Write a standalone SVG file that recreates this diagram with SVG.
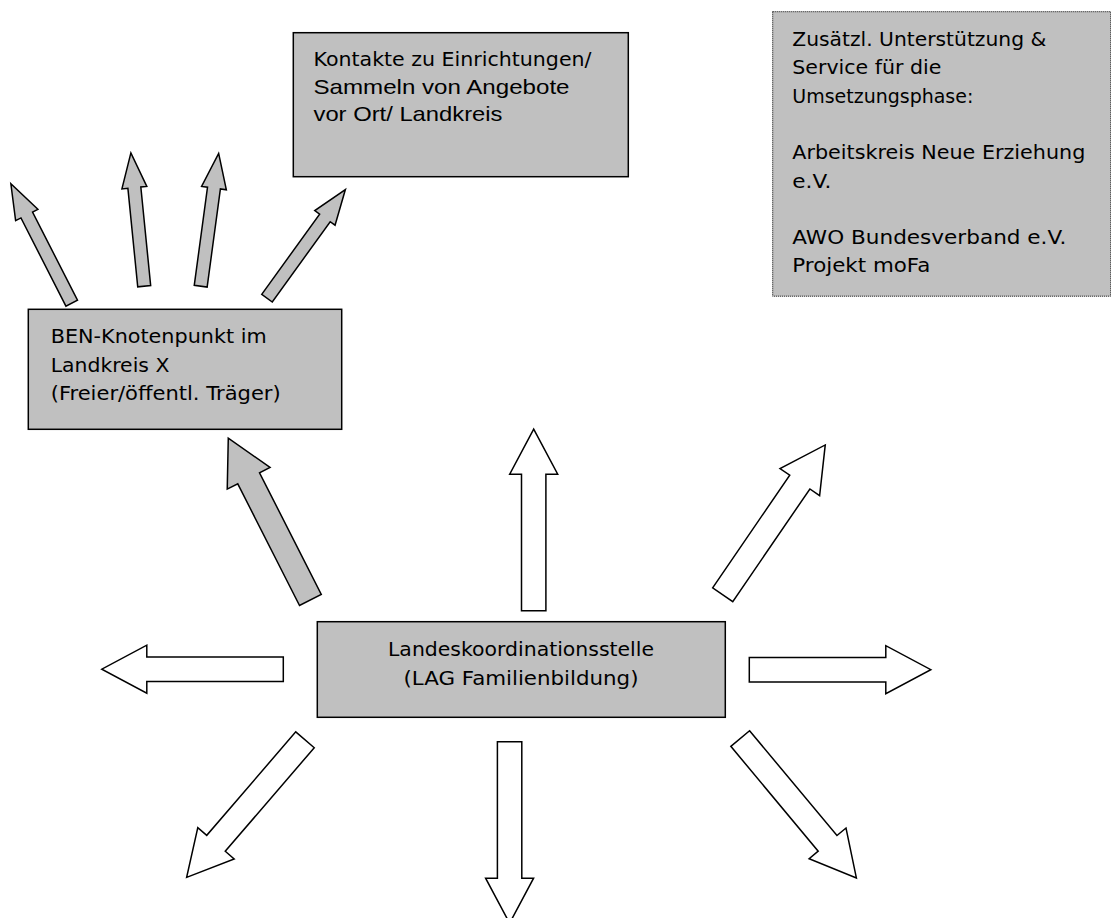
<svg xmlns="http://www.w3.org/2000/svg" xmlns:xlink="http://www.w3.org/1999/xlink" width="1111" height="918" viewBox="0 0 1111 918">
  <style>
    .box { fill: #c0c0c0; stroke: #000; stroke-width: 1.5; }
    .dotted { fill: #c0c0c0; stroke: #000; stroke-width: 1; stroke-dasharray: 1 1; }
    .gray { fill: #c0c0c0; stroke: #000; stroke-width: 1.5; stroke-linejoin: miter; }
    .white { fill: #fff; stroke: #000; stroke-width: 1.5; stroke-linejoin: miter; }
    .fu { font-family: "DejaVu Sans", "Liberation Sans", sans-serif; font-size: 19.5px; fill: #000; }
    .ar { font-family: "Liberation Sans", Arial, sans-serif; font-size: 21px; fill: #000; }
  </style>
  <defs>
    <polygon id="arrowBig" points="0,-12.2 136.5,-12.2 136.5,-24 181.5,0 136.5,24 136.5,12.2 0,12.2"/>
    <polygon id="arrowSmall" points="0,-6.5 99,-6.5 99,-12.5 134,0 99,12.5 99,6.5 0,6.5"/>
  </defs>

  <g id="connectors">
    <use xlink:href="#arrowSmall" href="#arrowSmall" class="gray" transform="translate(71.7,303.2) rotate(-117)"/>
    <use xlink:href="#arrowSmall" href="#arrowSmall" class="gray" transform="translate(144.2,286.2) rotate(-95.7)"/>
    <use xlink:href="#arrowSmall" href="#arrowSmall" class="gray" transform="translate(200.7,286.2) rotate(-82.3)"/>
    <use xlink:href="#arrowSmall" href="#arrowSmall" class="gray" transform="translate(267,298.2) rotate(-54.2)"/>
    <use xlink:href="#arrowBig" href="#arrowBig" class="gray" transform="translate(310.4,600) rotate(-116.9)"/>
    <use xlink:href="#arrowBig" href="#arrowBig" class="white" transform="translate(533.7,610.7) rotate(-90)"/>
    <use xlink:href="#arrowBig" href="#arrowBig" class="white" transform="translate(722.7,594.7) rotate(-55.6)"/>
    <use xlink:href="#arrowBig" href="#arrowBig" class="white" transform="translate(749.3,669.7) rotate(0)"/>
    <use xlink:href="#arrowBig" href="#arrowBig" class="white" transform="translate(283.3,669.2) rotate(180)"/>
    <use xlink:href="#arrowBig" href="#arrowBig" class="white" transform="translate(305,739.8) rotate(130.7)"/>
    <use xlink:href="#arrowBig" href="#arrowBig" class="white" transform="translate(509.6,741.7) rotate(90)"/>
    <use xlink:href="#arrowBig" href="#arrowBig" class="white" transform="translate(740.2,738.5) rotate(50.2)"/>
  </g>

  <g id="node-kontakte">
    <rect class="box" x="293.3" y="32.7" width="335" height="144"/>
    <text class="fu" x="313.5" y="66" textLength="278" lengthAdjust="spacingAndGlyphs">Kontakte zu Einrichtungen/</text>
    <text class="ar" x="313.5" y="93.5" textLength="256" lengthAdjust="spacingAndGlyphs">Sammeln von Angebote</text>
    <text class="ar" x="313.5" y="121" textLength="189" lengthAdjust="spacingAndGlyphs">vor Ort/ Landkreis</text>
  </g>

  <g id="node-service">
    <rect class="dotted" x="772.7" y="11.7" width="338" height="284.5"/>
    <text class="fu" x="792.3" y="46" textLength="254" lengthAdjust="spacingAndGlyphs">Zusätzl. Unterstützung &amp;</text>
    <text class="fu" x="792.3" y="74.3" textLength="149" lengthAdjust="spacingAndGlyphs">Service für die</text>
    <text class="fu" x="792.3" y="102.6" textLength="181" lengthAdjust="spacingAndGlyphs">Umsetzungsphase:</text>
    <text class="fu" x="792.3" y="159.2" textLength="293" lengthAdjust="spacingAndGlyphs">Arbeitskreis Neue Erziehung</text>
    <text class="fu" x="792.3" y="187.5" textLength="39" lengthAdjust="spacingAndGlyphs">e.V.</text>
    <text class="fu" x="792.3" y="244.1" textLength="274" lengthAdjust="spacingAndGlyphs">AWO Bundesverband e.V.</text>
    <text class="fu" x="792.3" y="272.4" textLength="138" lengthAdjust="spacingAndGlyphs">Projekt moFa</text>
  </g>

  <g id="node-ben">
    <rect class="box" x="28.3" y="309.3" width="313.4" height="120"/>
    <text class="fu" x="50.7" y="343.3" textLength="216" lengthAdjust="spacingAndGlyphs">BEN-Knotenpunkt im</text>
    <text class="fu" x="50.7" y="371.6" textLength="118.7" lengthAdjust="spacingAndGlyphs">Landkreis X</text>
    <text class="fu" x="50.7" y="400" textLength="230" lengthAdjust="spacingAndGlyphs">(Freier/öffentl. Träger)</text>
  </g>

  <g id="node-landeskoordination">
    <rect class="box" x="317.3" y="621.7" width="408" height="95.6"/>
    <text class="fu" x="521" y="656" text-anchor="middle" textLength="266" lengthAdjust="spacingAndGlyphs">Landeskoordinationsstelle</text>
    <text class="fu" x="521" y="685" text-anchor="middle" textLength="235" lengthAdjust="spacingAndGlyphs">(LAG Familienbildung)</text>
  </g>
</svg>
